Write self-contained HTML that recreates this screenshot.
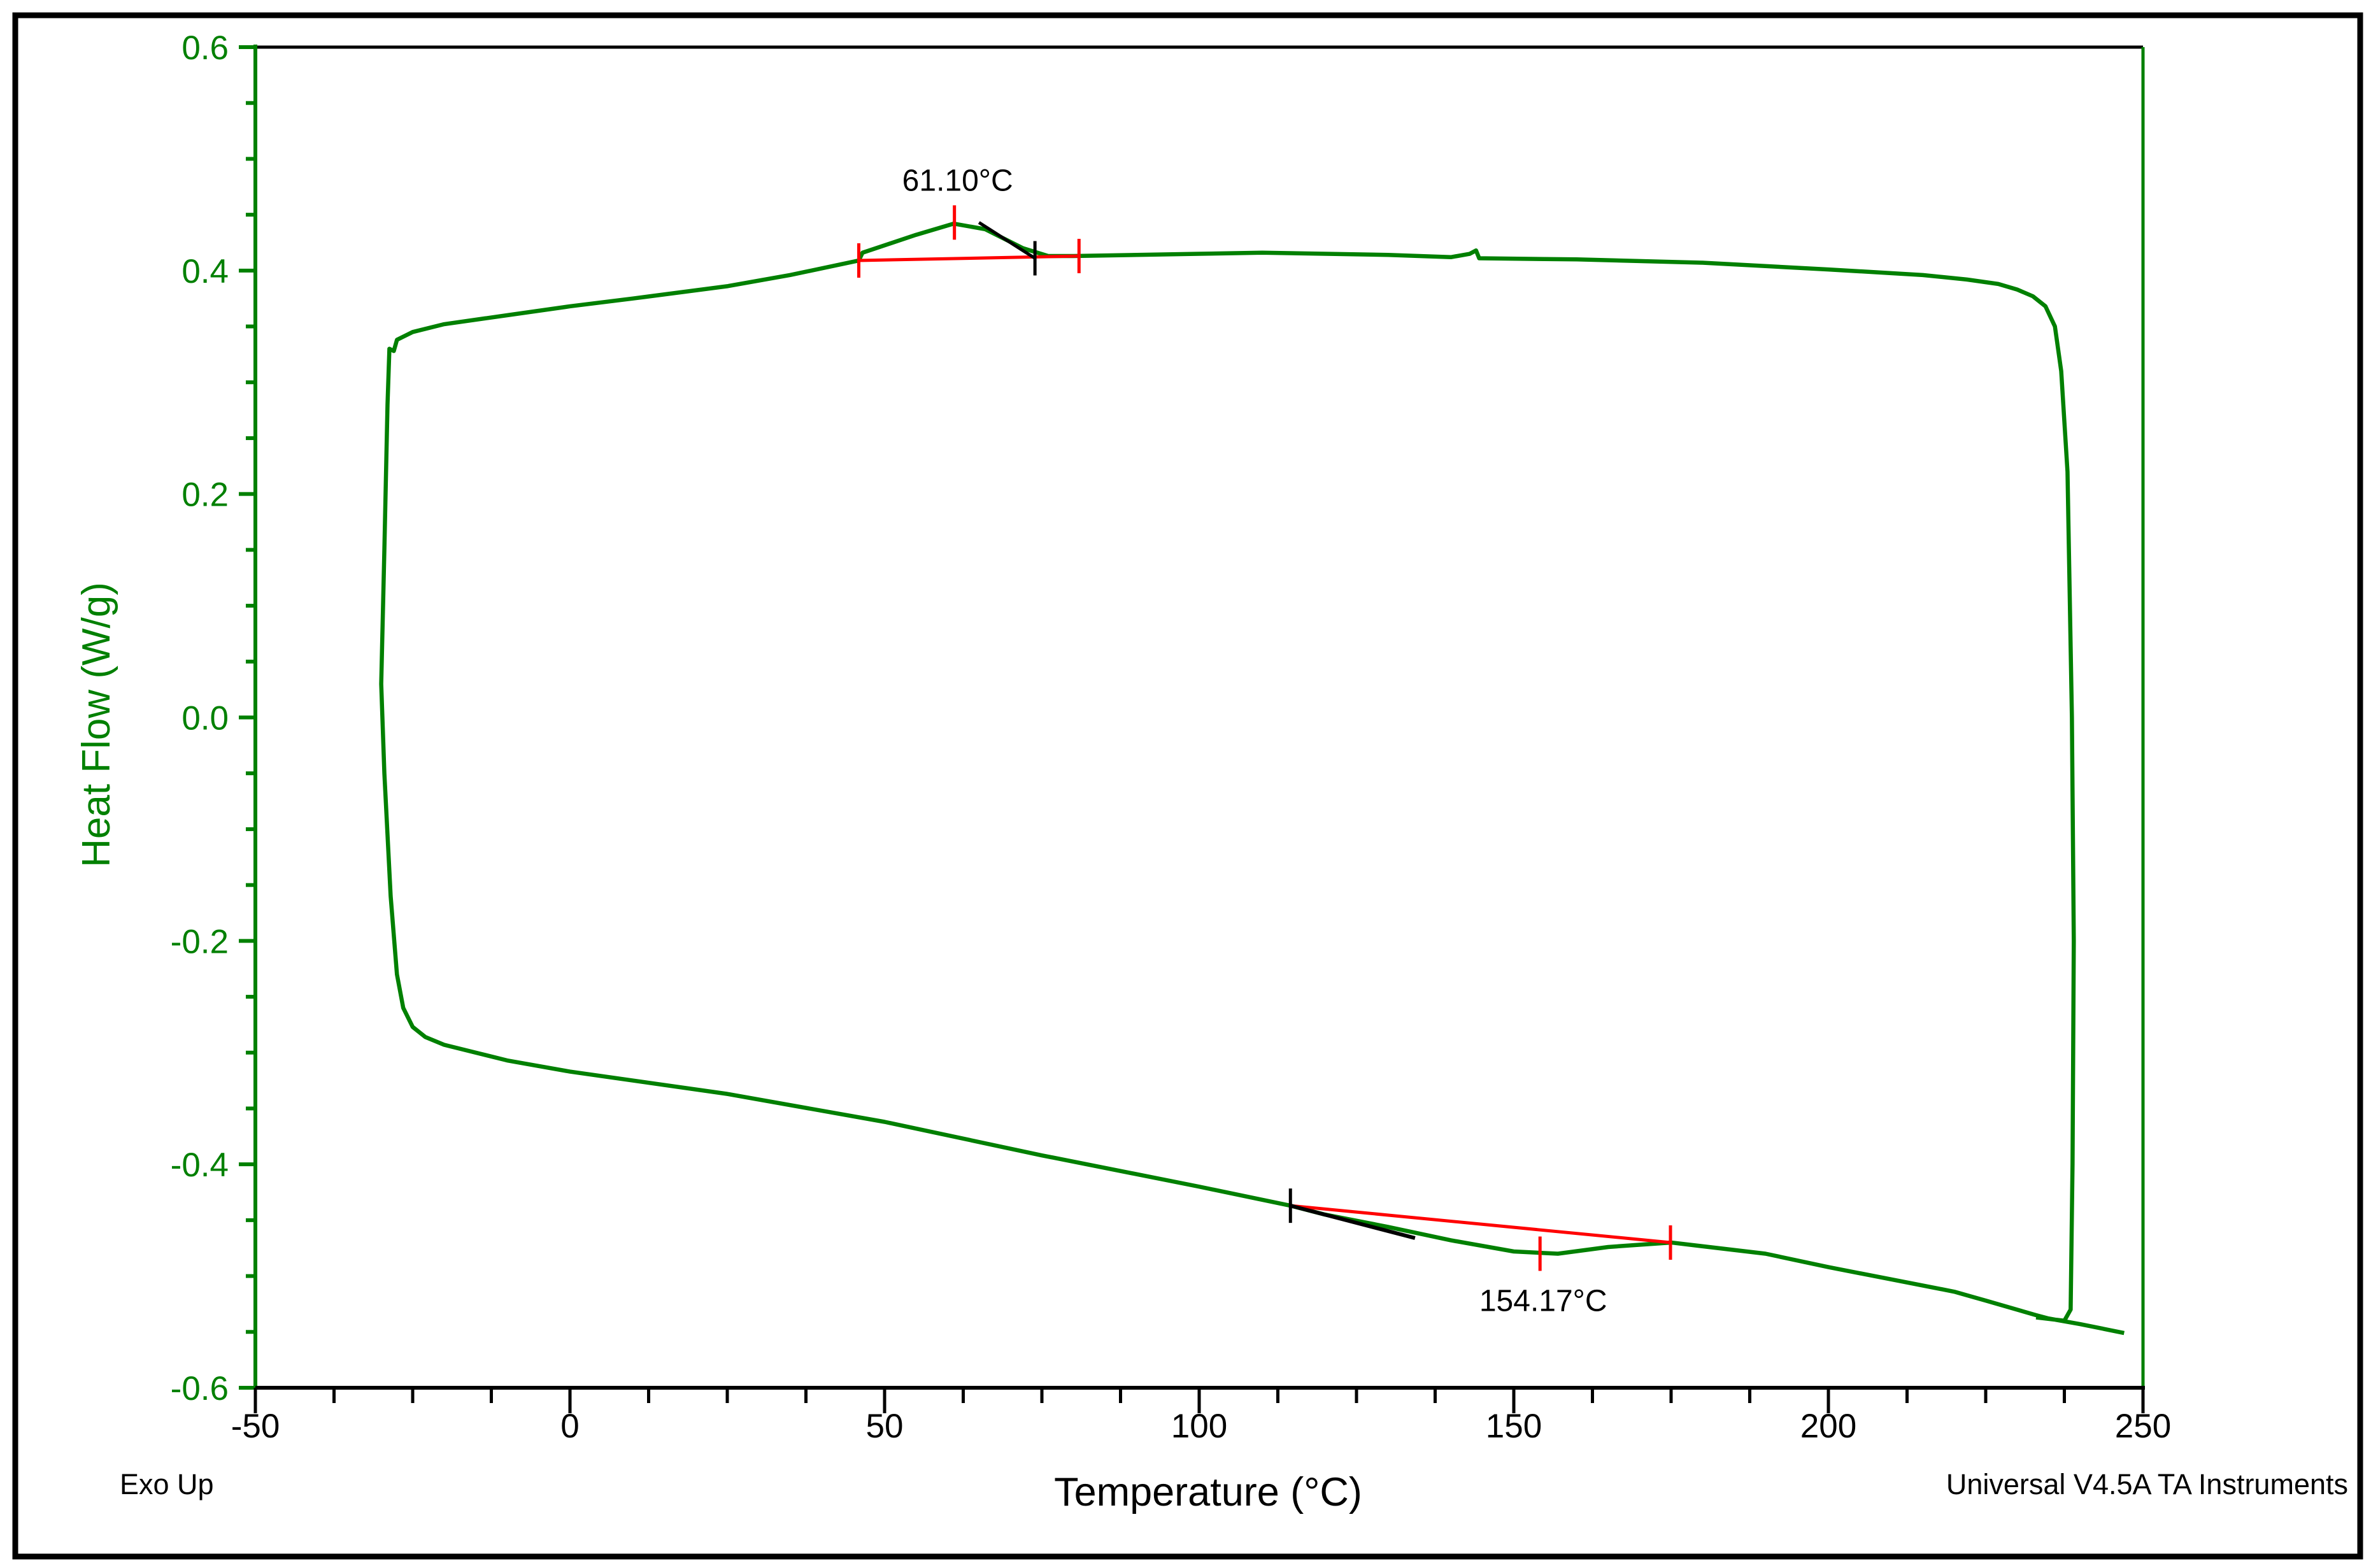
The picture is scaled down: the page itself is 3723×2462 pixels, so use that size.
<!DOCTYPE html>
<html><head><meta charset="utf-8"><style>
html,body{margin:0;padding:0;background:#fff;}
svg{display:block;}
text{font-family:"Liberation Sans",Arial,sans-serif;}
</style></head><body>
<svg id="chart" width="3723" height="2462" viewBox="0 0 3723 2462" xmlns="http://www.w3.org/2000/svg">
<rect x="24" y="24" width="3682" height="2420" fill="#fff" stroke="#000" stroke-width="9"/>
<g id="g"></g>
</svg>
<script>
const xTicks=[-50,0,50,100,150,200,250];
const yTicks=[0.6,0.4,0.2,0.0,-0.2,-0.4,-0.6];
const yTickLabels=["0.6","0.4","0.2","0.0","-0.2","-0.4","-0.6"];
const curveT=[247,240,235,233,225,220,210,200,190,175,165,157,150,140,130,120,114.5,100,75,50,25,0,-10,-20,-23,-25,-26.5,-27.5,-28.5,-29.5,-30,-29.5,-29,-28.7,-28,-27.5,-25,-20,-10,0,10,25,35,45.9,46.5,55,61,66,72,76,80,100,110,130,140,143,144,144.5,160,180,200,215,222,227,230,232.5,234.5,236,237,238,238.7,239,238.8,238.5,237.5,233];
const curveW=[-0.551,-0.543,-0.538,-0.535,-0.522,-0.514,-0.503,-0.492,-0.480,-0.470,-0.474,-0.480,-0.478,-0.468,-0.456,-0.445,-0.437,-0.420,-0.392,-0.362,-0.337,-0.317,-0.307,-0.293,-0.286,-0.277,-0.26,-0.23,-0.16,-0.05,0.03,0.15,0.28,0.33,0.328,0.338,0.345,0.352,0.360,0.368,0.375,0.386,0.396,0.409,0.416,0.432,0.442,0.437,0.420,0.413,0.413,0.415,0.416,0.414,0.412,0.415,0.418,0.411,0.410,0.407,0.401,0.396,0.392,0.388,0.383,0.377,0.368,0.350,0.31,0.22,0.0,-0.2,-0.4,-0.53,-0.540,-0.537];
const peak1=[45.9,0.409,61.1,0.443,80.9,0.413,73.9,0.411,65,0.443];
const peak2=[114.5,-0.437,154.17,-0.480,174.9,-0.470,134.3,-0.466];
const L=401,R=3365,T=74,B=2179;
const sx=v=>L+(v+50)/300*(R-L);
const sy=v=>T+(0.6-v)/1.2*(B-T);
const g=document.getElementById('g');
const NS='http://www.w3.org/2000/svg';
function mk(tag,attrs,txt){const e=document.createElementNS(NS,tag);for(const k in attrs)e.setAttribute(k,attrs[k]);if(txt!==undefined)e.textContent=txt;g.appendChild(e);return e;}
let e;
e=mk('line',{x1:L,y1:T,x2:R,y2:T,stroke:'#000','stroke-width':5});


e=mk('line',{x1:R,y1:T,x2:R,y2:B,stroke:'#008000','stroke-width':5});


e=mk('line',{x1:L,y1:T-4,x2:L,y2:B,stroke:'#008000','stroke-width':6});


e=mk('line',{x1:L,y1:B,x2:R+3,y2:B,stroke:'#000','stroke-width':6});


for(let v=-0.6;v<=0.6001;v+=0.05){const major=Math.abs(Math.round(v*100)%20)<1;
e=mk('line',{x1:L-(major?26:15),y1:sy(v),x2:L,y2:sy(v),stroke:'#008000','stroke-width':6});

}
yTicks.forEach((v,i)=>{e=mk('text',{x:L-42,y:sy(v)+19,'text-anchor':'end','font-size':53,fill:'#008000'},yTickLabels[i]);

});
for(let v=-50;v<=250.01;v+=12.5){const major=Math.abs(v%50)<0.01;
e=mk('line',{x1:sx(v),y1:B,x2:sx(v),y2:B+(major?40:24),stroke:'#000','stroke-width':5});

}
xTicks.forEach(v=>{e=mk('text',{x:sx(v),y:B+78,'text-anchor':'middle','font-size':53,fill:'#000'},String(v));

});
e=mk('polyline',{points:curveT.map((t,i)=>sx(t)+','+sy(curveW[i])).join(' '),fill:'none',stroke:'#008000','stroke-width':6.5,'stroke-linejoin':'round'});


function seg(x1,y1,x2,y2,c,w,name){e=mk('line',{x1:sx(x1),y1:sy(y1),x2:sx(x2),y2:sy(y2),stroke:c,'stroke-width':w});

}
function vt(t,w,c,h,name){e=mk('line',{x1:sx(t),y1:sy(w)-h,x2:sx(t),y2:sy(w)+h,stroke:c,'stroke-width':5});

}
seg(peak1[0],peak1[1],peak1[4],peak1[5],'#f00',5,'peak1-baseline');
seg(peak1[8],peak1[9],peak1[6],peak1[7],'#000',5,'peak1-tangent');
vt(peak1[0],peak1[1],'#f00',27,'peak1-start-tick');
vt(peak1[2],peak1[3],'#f00',27,'peak1-peak-tick');
vt(peak1[4],peak1[5],'#f00',27,'peak1-end-tick');
vt(peak1[6],peak1[7],'#000',27,'peak1-onset-tick');
e=mk('text',{x:sx(peak1[2])+5,y:sy(peak1[3])-50,'text-anchor':'middle','font-size':48,fill:'#000'},peak1[2].toFixed(2)+'°C');


seg(peak2[0],peak2[1],peak2[4],peak2[5],'#f00',5,'peak2-baseline');
seg(peak2[0],peak2[1],peak2[6],peak2[7],'#000',6,'peak2-tangent');
vt(peak2[0],peak2[1],'#000',27,'peak2-onset-tick');
vt(peak2[2],peak2[3],'#f00',27,'peak2-peak-tick');
vt(peak2[4],peak2[5],'#f00',27,'peak2-end-tick');
e=mk('text',{x:sx(peak2[2])+5,y:sy(peak2[3])+90,'text-anchor':'middle','font-size':48,fill:'#000'},peak2[2].toFixed(2)+'°C');


e=mk('text',{x:172,y:1138,'text-anchor':'middle','font-size':62,fill:'#008000',transform:'rotate(-90 172 1138)'},'Heat Flow (W/g)');


e=mk('text',{x:1897,y:2364,'text-anchor':'middle','font-size':63,fill:'#000'},'Temperature (°C)');


e=mk('text',{x:188,y:2346,'font-size':45,fill:'#000'},'Exo Up');


e=mk('text',{x:3687,y:2346,'text-anchor':'end','font-size':45,fill:'#000'},'Universal V4.5A TA Instruments');


</script>
</body></html>
